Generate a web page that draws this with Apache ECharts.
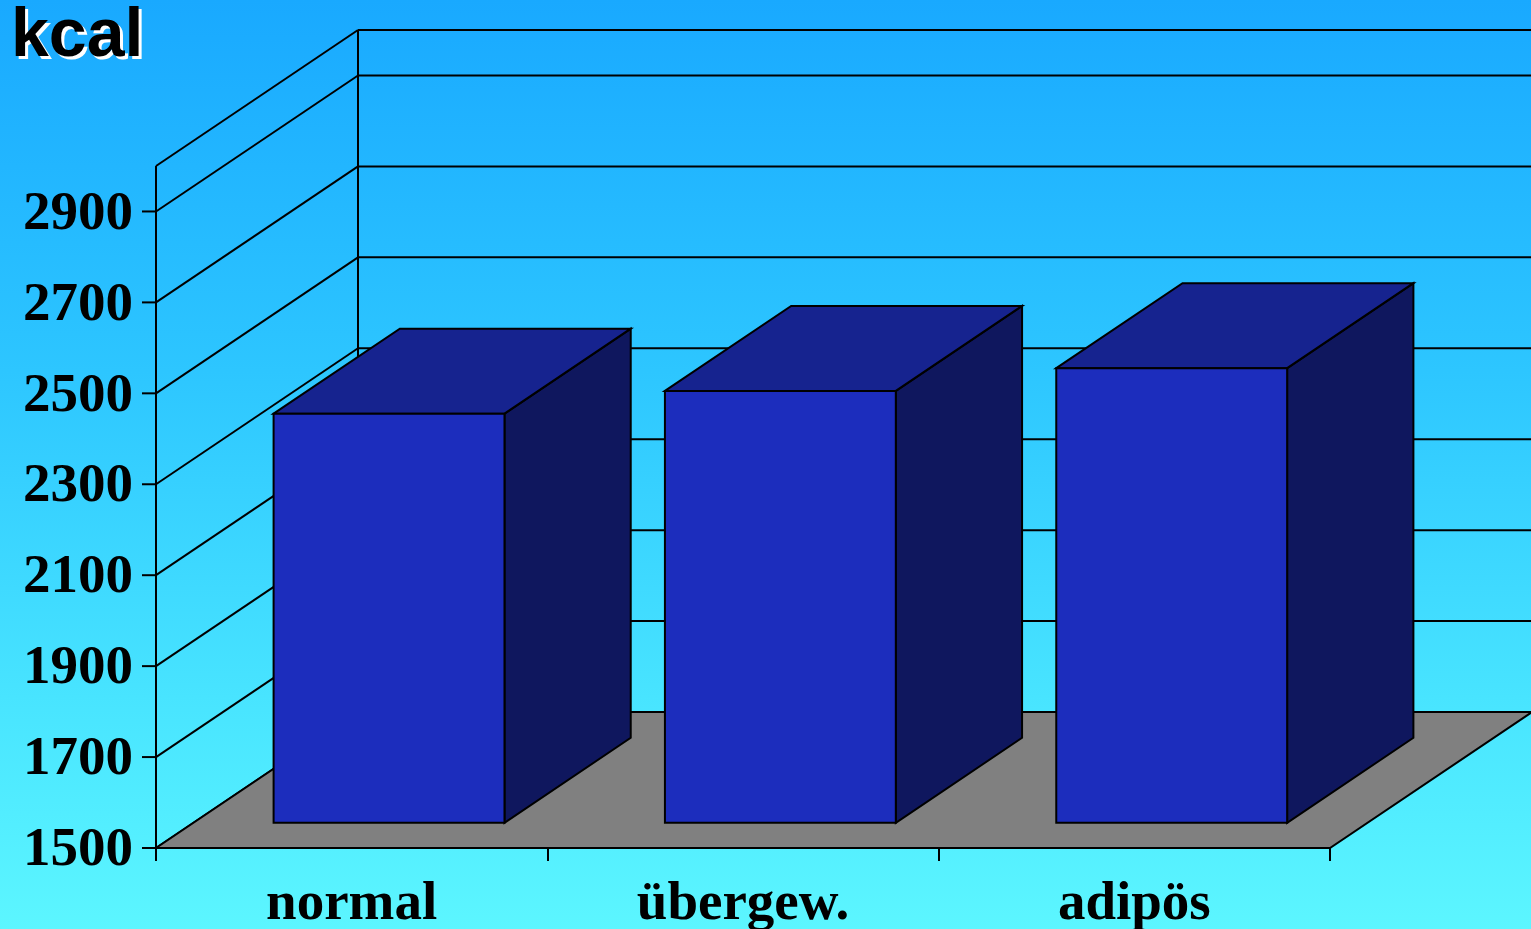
<!DOCTYPE html>
<html>
<head>
<meta charset="utf-8">
<script src="https://cdn.jsdelivr.net/npm/echarts@6/dist/echarts.min.js"></script>
<style>
  html, body { margin: 0; padding: 0; overflow: hidden; }
  #chart { width: 1531px; height: 929px; }
</style>
</head>
<body>
<div id="chart"></div>
<script>
// Daily energy intake by weight group
const categories = ['normal', 'übergew.', 'adipös'];
const energyKcal = [2400, 2450, 2500];
const yTickValues = [1500, 1700, 1900, 2100, 2300, 2500, 2700, 2900];
const yMin = 1500;
const yMax = 3000;
const unitLabel = 'kcal';

// Oblique projection of the depth axis: pixel offset for the full depth of the box
const DEPTH_DX = 202;
const DEPTH_DY = 136;
const BAR_DEPTH_FROM = 0.185;
const BAR_DEPTH_TO = 0.81;
const BAR_WIDTH_SHARE = 0.59;
const SERIF = '"Liberation Serif", "Times New Roman", serif';
const SANS = '"Liberation Sans", Arial, sans-serif';
const LABEL_SIZE = 55;

function shift(p, d) {
  return [p[0] + d * DEPTH_DX, p[1] - d * DEPTH_DY];
}

function edgeLine(a, b, w) {
  return {
    type: 'line',
    shape: { x1: a[0], y1: a[1], x2: b[0], y2: b[1] },
    style: { stroke: '#000', lineWidth: w || 2 }
  };
}

// Walls, floor, value axis with its ticks and labels
function renderFrame(params, api) {
  const bw = api.size([1, 0])[0];
  const n = categories.length;
  const x0 = api.coord([0, yMin])[0] - bw / 2;
  const x1 = api.coord([n - 1, yMin])[0] + bw / 2;
  const yAt = v => api.coord([0, v])[1];
  const children = [];

  yTickValues.concat([yMax]).forEach(v => {
    const front = [x0, yAt(v)];
    const backL = shift(front, 1);
    const backR = shift([x1, yAt(v)], 1);
    children.push(edgeLine(backL, backR));
    children.push(edgeLine(front, backL));
  });
  children.push(edgeLine(shift([x0, yAt(yMax)], 1), shift([x0, yAt(yMin)], 1)));

  const f0 = [x0, yAt(yMin)];
  const f1 = [x1, yAt(yMin)];
  children.push({
    type: 'polygon',
    shape: { points: [f0, f1, shift(f1, 1), shift(f0, 1)] },
    style: { fill: '#808080', stroke: '#000', lineWidth: 2, lineJoin: 'miter' }
  });

  children.push(edgeLine([x0, yAt(yMax)], [x0, yAt(yMin)]));

  yTickValues.forEach(v => {
    const y = yAt(v);
    children.push(edgeLine([x0 - 14, y], [x0, y]));
    children.push({
      type: 'text',
      style: {
        text: String(v),
        x: x0 - 23,
        y: y + 3,
        align: 'right',
        verticalAlign: 'middle',
        font: 'bold ' + LABEL_SIZE + 'px ' + SERIF,
        fill: '#000'
      }
    });
  });
  return { type: 'group', children: children };
}

// One box per category: side, top, then front face
function renderBar(params, api) {
  const i = api.value(0);
  const v = api.value(1);
  const bw = api.size([1, 0])[0] * BAR_WIDTH_SHARE;
  const top = api.coord([i, v]);
  const base = api.coord([i, yMin]);
  const xl = top[0] - bw / 2;
  const xr = top[0] + bw / 2;
  const fTL = shift([xl, top[1]], BAR_DEPTH_FROM);
  const fTR = shift([xr, top[1]], BAR_DEPTH_FROM);
  const fBL = shift([xl, base[1]], BAR_DEPTH_FROM);
  const fBR = shift([xr, base[1]], BAR_DEPTH_FROM);
  const bTL = shift([xl, top[1]], BAR_DEPTH_TO);
  const bTR = shift([xr, top[1]], BAR_DEPTH_TO);
  const bBR = shift([xr, base[1]], BAR_DEPTH_TO);
  const edge = { stroke: '#000', lineWidth: 2, lineJoin: 'miter' };
  return {
    type: 'group',
    children: [
      { type: 'polygon', shape: { points: [fTR, bTR, bBR, fBR] }, style: Object.assign({ fill: '#0f175e' }, edge) },
      { type: 'polygon', shape: { points: [fTL, bTL, bTR, fTR] }, style: Object.assign({ fill: '#16238f' }, edge) },
      { type: 'polygon', shape: { points: [fTL, fTR, fBR, fBL] }, style: Object.assign({ fill: '#1c2dbd' }, edge) }
    ]
  };
}

const chart = echarts.init(document.getElementById('chart'), null, { renderer: 'canvas' });

chart.setOption({
  animation: false,
  backgroundColor: {
    type: 'linear', x: 0, y: 0, x2: 0, y2: 1,
    colorStops: [
      { offset: 0, color: '#19a9ff' },
      { offset: 0.4, color: '#2dc6ff' },
      { offset: 0.75, color: '#48e4ff' },
      { offset: 1, color: '#5cf6ff' }
    ]
  },
  graphic: [
    { type: 'text', x: 14, y: 6, z: 10, style: { text: unitLabel, font: 'bold 68px ' + SANS, fill: '#ffffff', verticalAlign: 'top' } },
    { type: 'text', x: 11, y: 3, z: 11, style: { text: unitLabel, font: 'bold 68px ' + SANS, fill: '#000000', verticalAlign: 'top' } }
  ],
  grid: { left: 156, right: 201, top: 166, bottom: 81, containLabel: false, outerBoundsMode: 'none' },
  xAxis: {
    type: 'category',
    data: categories,
    boundaryGap: true,
    axisLine: { show: true, lineStyle: { color: '#000', width: 2 } },
    axisTick: { show: true, length: 13, alignWithLabel: false, lineStyle: { color: '#000', width: 2 } },
    axisLabel: { margin: 29, color: '#000', fontFamily: SERIF, fontWeight: 'bold', fontSize: LABEL_SIZE },
    splitLine: { show: false }
  },
  yAxis: {
    type: 'value',
    min: yMin,
    max: yMax,
    show: false
  },
  series: [
    {
      type: 'custom',
      name: 'frame',
      silent: true,
      clip: false,
      z: 1,
      renderItem: renderFrame,
      encode: { x: 0, y: 1 },
      data: [[0, yMin]]
    },
    {
      type: 'custom',
      name: 'kcal',
      silent: true,
      clip: false,
      z: 2,
      renderItem: renderBar,
      encode: { x: 0, y: 1 },
      data: categories.map((c, i) => [i, energyKcal[i]])
    }
  ]
});
</script>
</body>
</html>
